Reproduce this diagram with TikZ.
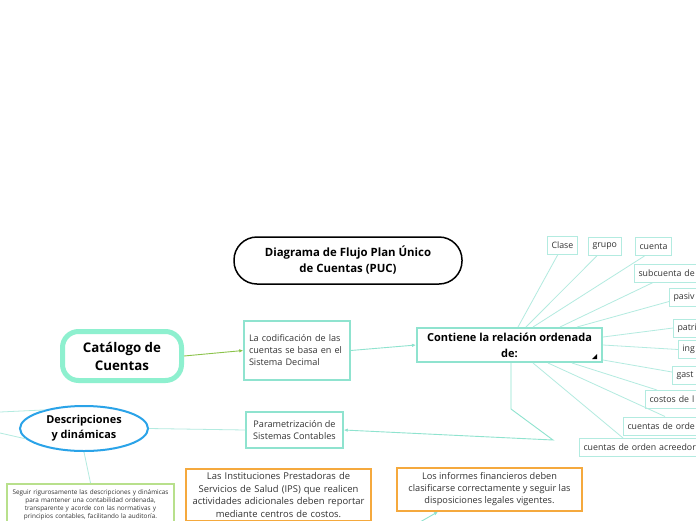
\documentclass[tikz,border=0pt]{standalone}
\usepackage{fontspec}
\setmainfont{Open Sans}
\usepackage{xcolor}
\usetikzlibrary{positioning}
\usetikzlibrary{arrows.meta,shapes}
\usetikzlibrary{calc}

\definecolor{ramal}{HTML}{B3EBE0}
\definecolor{aguaborde}{HTML}{8FE3CF}
\definecolor{catborde}{HTML}{8EF0CF}
\definecolor{azulborde}{HTML}{2AA3E8}
\definecolor{verdeborde}{HTML}{B8E08C}
\definecolor{naranjaborde}{HTML}{F5A93D}
\definecolor{verdeflecha}{HTML}{8BC34A}
\definecolor{textogris}{HTML}{333333}

\begin{document}
\begin{tikzpicture}[x=1pt, y=-1pt,
  item/.style={draw=ramal, line width=1pt, fill=white, anchor=west,
    font=\fontsize{8.8}{10}\selectfont, text=textogris,
    inner xsep=4pt, inner ysep=0pt, minimum height=18pt},
  cortado/.style={item, text width=120pt, align=left},
  cajita/.style={draw=aguaborde, line width=1.5pt, fill=white,
    font=\fontsize{9.1}{12}\selectfont, text=textogris, inner sep=5pt},
  nota/.style={draw=naranjaborde, line width=1.5pt, fill=white, align=center,
    font=\fontsize{9.4}{12.4}\selectfont, text=textogris, inner sep=4pt},
  ramaline/.style={draw=ramal, line width=0.8pt},
  flecha/.style={draw=aguaborde, line width=0.9pt, -{Latex[length=4pt,width=3.5pt]}}
]
\clip (0,0) rectangle (696,520);
\fill[white] (0,0) rectangle (696,520);

% titulo
\node[draw=black, line width=1.5pt, rounded corners=23pt, align=center,
  minimum width=228pt, minimum height=47pt,
  font=\fontsize{11.4}{16}\selectfont\bfseries] (titulo) at (348,260.5)
  {Diagrama de Flujo Plan Único\\de Cuentas (PUC)};

% nodo central
\node[draw=catborde, line width=5pt, rounded corners=16pt, align=center,
  minimum width=119pt, minimum height=49pt,
  font=\fontsize{13.3}{18}\selectfont\bfseries] (catalogo) at (122,356)
  {Catálogo de\\Cuentas};

\node[cajita, align=left, text width=96pt, minimum height=59pt] (codificacion) at (297,350.5)
  {La codificación de las\\cuentas se basa en el\\Sistema Decimal};

\node[draw=aguaborde, line width=2pt, align=center, minimum width=185pt, minimum height=34pt,
  inner sep=0pt, font=\fontsize{11}{16}\selectfont\bfseries] (contiene) at (509.5,345)
  {Contiene la relación ordenada\\de:};
\fill (592,359) -- (597,359) -- (597,354) -- cycle;

% ramas de la relacion
\node[item] (clase) at (547,245) {Clase};
\node[item] (grupo) at (588,246.5) {grupo};
\node[item] (cuenta) at (635,246.5) {cuenta};
\node[cortado] (subcuenta) at (634,273) {subcuenta de};
\node[cortado] (pasivo) at (669,297.5) {pasiv};
\node[cortado] (patrimonio) at (673,328) {patri};
\node[cortado] (ingresos) at (678,349.5) {ing};
\node[cortado] (gastos) at (672,375.5) {gast};
\node[cortado] (costos) at (645,399.5) {costos de l};
\node[cortado] (deudoras) at (623,426) {cuentas de orde};
\node[cortado] (acreedoras) at (579,447.5) {cuentas de orden acreedor};

\draw[ramaline] ([xshift=8.5pt]contiene.north) -- ([xshift=-4.5pt]clase.south);
\draw[ramaline] ([xshift=16.5pt]contiene.north) -- ([xshift=-8pt]grupo.south);
\draw[ramaline] ([xshift=23.5pt]contiene.north) -- ([xshift=-9pt]cuenta.south);
\draw[ramaline] ([xshift=50.5pt]contiene.north) -- ([xshift=19pt]subcuenta.south west);
\draw[ramaline] ([xshift=67.5pt]contiene.north) -- ([yshift=-4pt]pasivo.west);
\draw[ramaline] ([yshift=8pt]contiene.east) -- (patrimonio.west);
\draw[ramaline] (contiene.east) -- (ingresos.west);
\draw[ramaline] ([yshift=-15pt]contiene.east) -- ([yshift=3.5pt]gastos.west);
\draw[ramaline] ([xshift=62.5pt]contiene.south) -- ([xshift=12pt]costos.north west);
\draw[ramaline] ([xshift=38.5pt]contiene.south) -- ([xshift=42pt]deudoras.north west);
\draw[ramaline] ([xshift=23.5pt]contiene.south) -- ([xshift=44pt]acreedoras.north west);

% flechas principales
\draw[line width=0.9pt, draw=verdeflecha, -{Latex[length=4pt,width=3.5pt]}] (catalogo.east) -- (codificacion.west);
\draw[flecha] (codificacion.east) -- (contiene.west);

% parametrizacion
\node[cajita, align=center, minimum width=97pt, minimum height=36pt, inner sep=2pt] (parametrizacion) at (294.5,430)
  {Parametrización de\\Sistemas Contables};
\coordinate (codo) at (553,440);
\draw[flecha] ([xshift=1.5pt]contiene.south) -- ++(0,46) -- (codo) -- (parametrizacion.east);

% descripciones
\node[ellipse, draw=azulborde, line width=2pt, align=center,
  minimum width=128pt, minimum height=45pt, inner sep=0pt,
  font=\fontsize{10.9}{15}\selectfont\bfseries] (descripciones) at (84,428.5)
  {Descripciones\\y dinámicas};
\draw[ramaline] (parametrizacion.west) -- (descripciones.east);
\coordinate (fueraA) at (0,412);
\coordinate (fueraB) at (0,433);
\draw[ramaline] (descripciones.155) -- (fueraA);
\draw[ramaline] (descripciones.190) -- (fueraB);

\node[draw=verdeborde, line width=1.5pt, fill=white, anchor=north, align=center,
  text width=163pt, inner ysep=6pt, inner xsep=2pt,
  font=\fontsize{6.4}{8}\selectfont, text=textogris] (seguir) at (90.5,483)
  {Seguir rigurosamente las descripciones y dinámicas\\para mantener una contabilidad ordenada,\\transparente y acorde con las normativas y\\principios contables, facilitando la auditoría.};
\draw[ramaline] (descripciones.south) -- (seguir.north);

% notas
\node[nota, anchor=north, text width=177pt] (ips) at (278.5,468)
  {Las Instituciones Prestadoras de\\Servicios de Salud (IPS) que realicen\\actividades adicionales deben reportar\\mediante centros de costos.\\ };
\node[nota, minimum width=185pt, minimum height=43pt, inner sep=1pt, font=\fontsize{9.2}{12}\selectfont] (informes) at (489.5,489.5)
  {Los informes financieros deben\\clasificarse correctamente y seguir las\\disposiciones legales vigentes.};
\coordinate (abajo) at (420,522);
\draw[flecha] (abajo) -- ([xshift=-51.5pt]informes.south);

\end{tikzpicture}
\end{document}
